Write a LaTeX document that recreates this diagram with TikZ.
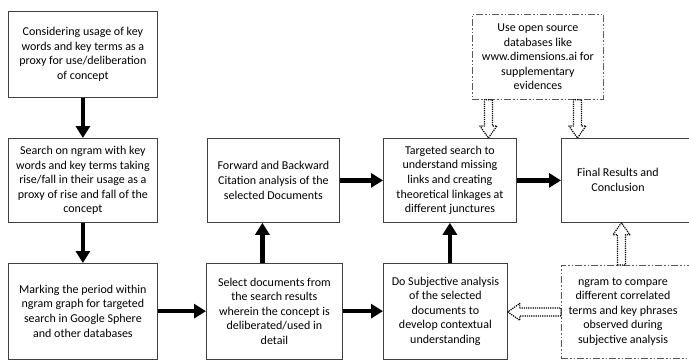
\documentclass[tikz,border=0pt]{standalone}
\usepackage{fontspec}
\setmainfont{Carlito}
\usetikzlibrary{arrows.meta,calc}
\newcommand{\hollowarr}[2]{%
  \coordinate (hb) at ($(#2)!12pt!(#1)$);
  \draw[hollow] ($(#1)!4pt!90:(#2)$) -- ($(hb)!4pt!-90:(#1)$) -- ($(hb)!8.5pt!-90:(#1)$)
    -- (#2) -- ($(hb)!8.5pt!90:(#1)$) -- ($(hb)!4pt!90:(#1)$) -- ($(#1)!4pt!-90:(#2)$) -- cycle;
}
\begin{document}
\begin{tikzpicture}[x=1pt,y=-1pt,
  box/.style={draw=black!75, line width=0.8pt, inner sep=0pt, anchor=north west, align=center,
    font=\fontsize{12}{14.6}\selectfont},
  dbox/.style={draw=black!65, line width=0.8pt, dash pattern=on 7pt off 2pt on 1.5pt off 2pt on 1.5pt off 2pt,
    inner sep=0pt, anchor=north west, align=center, font=\fontsize{12}{14.6}\selectfont},
  txt/.style={inner sep=0pt, align=center, font=\fontsize{12}{14.6}\selectfont},
  big/.style={line width=4.5pt, draw=black, -{Triangle[length=12pt,width=14pt]}},
  hollow/.style={draw=black, line width=1.2pt, dash pattern=on 1.2pt off 1pt, fill=white, line join=round}]
\useasboundingbox (0,0) rectangle (689,360);
\clip (0,0) rectangle (689,360);

\node[box, minimum width=149pt, minimum height=86pt] (b1) at (8,11)
  {Considering usage of key\\words and key terms as a\\proxy for use/deliberation\\of concept};
\node[box, minimum width=149pt, minimum height=84pt] (b2) at (8,138)
  {Search on ngram with key\\words and key terms taking\\rise/fall in their usage as a\\proxy of rise and fall of the\\concept};
\node[box, minimum width=132pt, minimum height=84pt] (b3) at (207,138)
  {Forward and Backward\\Citation analysis of the\\selected Documents};
\node[box, minimum width=133pt, minimum height=84pt] (b4) at (383,138)
  {Targeted search to\\understand missing\\links and creating\\theoretical linkages at\\different junctures};
\node[box, minimum width=140pt, minimum height=84pt] (b5) at (561,138) {};
\node[txt] (t5) at (618,180) {Final Results and\\Conclusion};
\node[box, minimum width=149pt, minimum height=95.5pt] (b6) at (8,263)
  {Marking the period within\\ngram graph for targeted\\search in Google Sphere\\and other databases};
\node[box, minimum width=136pt, minimum height=95.5pt] (b7) at (206,263)
  {Select documents from\\the search results\\wherein the concept is\\deliberated/used in\\detail};
\node[box, minimum width=124pt, minimum height=95.5pt] (b8) at (383,263)
  {Do Subjective analysis\\of the selected\\documents to\\develop contextual\\understanding};
\node[dbox, minimum width=140pt, minimum height=93pt] (b9) at (561,265) {};
\node[txt] (t9) at (623,311.5)
  {ngram to compare\\different correlated\\terms and key phrases\\observed during\\subjective analysis};
\node[dbox, minimum width=131pt, minimum height=85pt] (b10) at (472,14)
  {Use open source\\databases like\\www.dimensions.ai for\\supplementary\\evidences};

% thick arrows
\draw[big] (b1) -- (b2);
\draw[big] (b2) -- (b6);
\draw[big] (b6) -- (b7);
\draw[big] (b7) -- (b8);
\draw[big] (b3.east) -- (b3.east -| b4.west);
\draw[big] (b4.east) -- (b4.east -| b5.west);
\draw[big] ([xshift=-12pt]b7.north) -- ([xshift=-12pt]b7.north |- b3.south);
\draw[big] (b8.north -| b4.south) -- (b4.south);

% hollow dotted arrows
\coordinate (h1s) at ([xshift=-49.5pt]b10.south);
\coordinate (h1e) at (h1s |- b4.north);
\coordinate (h2s) at ([xshift=39.5pt]b10.south);
\coordinate (h2e) at (h2s |- b5.north);
\coordinate (h3s) at ([xshift=-10pt]b9.north);
\coordinate (h3e) at (h3s |- b5.south);
\coordinate (h4s) at (b9.west);
\coordinate (h4e) at (b9.west -| b8.east);
\hollowarr{h1s}{h1e}
\hollowarr{h2s}{h2e}
\hollowarr{h3s}{h3e}
\hollowarr{h4s}{h4e}
\end{tikzpicture}
\end{document}
